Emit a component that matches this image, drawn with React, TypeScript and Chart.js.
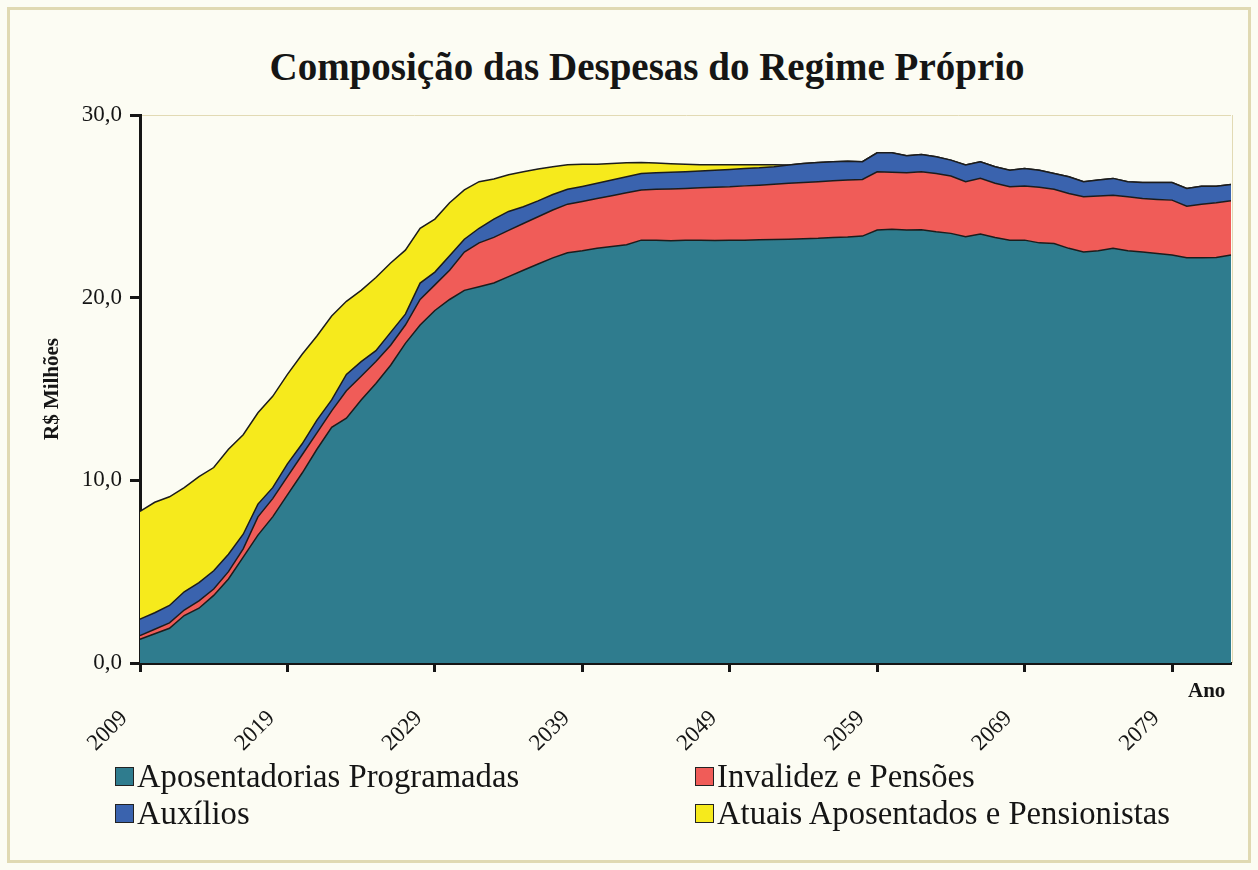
import React, { useEffect, useRef } from 'react';
import { Chart, registerables } from 'chart.js';

Chart.register(...registerables);

const years = [
  '2009', '2010', '2011', '2012', '2013', '2014', '2015', '2016', '2017', '2018',
  '2019', '2020', '2021', '2022', '2023', '2024', '2025', '2026', '2027', '2028',
  '2029', '2030', '2031', '2032', '2033', '2034', '2035', '2036', '2037', '2038',
  '2039', '2040', '2041', '2042', '2043', '2044', '2045', '2046', '2047', '2048',
  '2049', '2050', '2051', '2052', '2053', '2054', '2055', '2056', '2057', '2058',
  '2059', '2060', '2061', '2062', '2063', '2064', '2065', '2066', '2067', '2068',
  '2069', '2070', '2071', '2072', '2073', '2074', '2075', '2076', '2077', '2078',
  '2079', '2080', '2081', '2082', '2083',
];

const aposentadoriasProgramadas = [
  1.3, 1.6, 1.9, 2.6, 3.0, 3.7, 4.6, 5.8, 7.0, 8.0,
  9.2, 10.4, 11.7, 12.9, 13.4, 14.4, 15.3, 16.3, 17.5, 18.5,
  19.3, 19.9, 20.4, 20.6, 20.8, 21.15, 21.5, 21.84, 22.18, 22.46,
  22.57, 22.7, 22.8, 22.9, 23.15, 23.15, 23.12, 23.15, 23.15, 23.13,
  23.15, 23.15, 23.17, 23.18, 23.2, 23.22, 23.25, 23.3, 23.32, 23.37,
  23.7, 23.75, 23.7, 23.72, 23.61, 23.52, 23.33, 23.48, 23.29, 23.15,
  23.15, 23.0, 22.97, 22.7, 22.5, 22.57, 22.7, 22.57, 22.5, 22.42,
  22.33, 22.18, 22.18, 22.2, 22.33,
];

const invalidezPensoes = [
  0.2, 0.25, 0.3, 0.3, 0.4, 0.35, 0.4, 0.45, 1.0, 1.0,
  1.0, 1.0, 0.9, 0.9, 1.5, 1.3, 1.2, 1.1, 1.0, 1.4,
  1.4, 1.6, 2.1, 2.4, 2.5, 2.53, 2.56, 2.59, 2.62, 2.66,
  2.7, 2.73, 2.78, 2.84, 2.75, 2.78, 2.83, 2.83, 2.87, 2.91,
  2.92, 2.97, 2.99, 3.03, 3.06, 3.08, 3.1, 3.1, 3.12, 3.1,
  3.19, 3.12, 3.14, 3.17, 3.19, 3.14, 3.02, 3.05, 2.97, 2.92,
  2.96, 3.04, 2.96, 3.0, 3.02, 2.99, 2.91, 2.95, 2.93, 2.96,
  3.01, 2.83, 2.94, 2.99, 2.97,
];

const auxilios = [
  0.9, 0.9, 0.95, 1.0, 1.0, 1.0, 0.95, 0.8, 0.7, 0.6,
  0.7, 0.6, 0.7, 0.6, 0.9, 0.8, 0.6, 0.7, 0.6, 0.9,
  0.7, 0.8, 0.7, 0.8, 1.0, 1.04, 0.92, 0.87, 0.85, 0.81,
  0.82, 0.83, 0.86, 0.88, 0.9, 0.91, 0.91, 0.91, 0.91, 0.93,
  0.95, 0.95, 0.95, 0.96, 1.0, 1.05, 1.05, 1.04, 1.03, 0.97,
  1.04, 1.06, 0.93, 0.95, 0.91, 0.87, 0.91, 0.91, 0.91, 0.91,
  0.96, 0.94, 0.87, 0.92, 0.83, 0.88, 0.92, 0.83, 0.87, 0.92,
  0.96, 0.97, 0.98, 0.91, 0.9,
];

const atuaisAposentados = [
  5.9, 6.05, 5.95, 5.7, 5.8, 5.65, 5.75, 5.45, 5.0, 5.0,
  4.9, 4.9, 4.6, 4.6, 4.0, 3.9, 4.0, 3.8, 3.5, 3.0,
  2.9, 2.9, 2.7, 2.55, 2.2, 2.01, 1.91, 1.74, 1.52, 1.35,
  1.21, 1.05, 0.91, 0.76, 0.6, 0.53, 0.47, 0.41, 0.35, 0.31,
  0.26, 0.21, 0.17, 0.11, 0, 0, 0, 0, 0, 0,
  0, 0, 0, 0, 0, 0, 0, 0, 0, 0,
  0, 0, 0, 0, 0, 0, 0, 0, 0, 0,
  0, 0, 0, 0, 0,
];

const yTicks = [0, 10, 20, 30];

const seriesNames = [
  'Aposentadorias Programadas',
  'Invalidez e Pensões',
  'Auxílios',
  'Atuais Aposentados e Pensionistas',
];
const seriesColors = ['#2f7c8e', '#f05c58', '#3a63ae', '#f6ea1c'];

const SERIF = '"Liberation Serif", "Times New Roman", serif';

const plotFrame = {
  id: 'plotFrame',
  afterDraw(chart: any) {
    const { ctx, chartArea } = chart;
    ctx.save();
    ctx.strokeStyle = '#e2dab4';
    ctx.lineWidth = 1;
    ctx.beginPath();
    ctx.moveTo(chartArea.right + 1.5, chartArea.top);
    ctx.lineTo(chartArea.right + 1.5, chartArea.bottom);
    ctx.stroke();
    ctx.restore();
  },
};

export default function App() {
  const ref = useRef<HTMLCanvasElement>(null);

  useEffect(() => {
    document.body.style.margin = '0';
    const seriesData = [aposentadoriasProgramadas, invalidezPensoes, auxilios, atuaisAposentados];
    const chart = new Chart(ref.current as HTMLCanvasElement, {
      type: 'line',
      data: {
        labels: years,
        datasets: seriesData.map((d, i) => ({
          label: seriesNames[i],
          data: d,
          backgroundColor: seriesColors[i],
          borderColor: '#1c1c1c',
          borderWidth: 1.5,
          fill: i === 0 ? 'origin' : '-1',
          pointRadius: 0,
          tension: 0,
        })),
      },
      options: {
        responsive: false,
        animation: false,
        layout: { padding: { left: 0, right: 27, top: 115, bottom: 0 } },
        plugins: {
          legend: { display: false },
          tooltip: { enabled: false },
          title: { display: false },
        },
        scales: {
          x: {
            type: 'category',
            offset: false,
            border: { display: true, color: '#151515', width: 3 },
            grid: {
              display: true,
              drawOnChartArea: false,
              drawTicks: true,
              tickLength: 9,
              tickWidth: 3,
              tickColor: '#151515',
              color: 'rgba(0,0,0,0)',
            },
            ticks: {
              autoSkip: false,
              maxRotation: 45,
              minRotation: 45,
              padding: 33,
              labelOffset: -16,
              color: '#151515',
              font: { family: SERIF, size: 23 },
              callback: (_v: any, index: number) => (index % 10 === 0 ? years[index] : null),
            },
            afterFit: (s: any) => {
              s.height = 207;
            },
          },
          y: {
            stacked: true,
            min: 0,
            max: 30,
            border: { display: true, color: '#151515', width: 3 },
            grid: {
              display: true,
              drawTicks: true,
              tickLength: 10,
              tickWidth: 3,
              tickColor: '#151515',
              color: (ctx: any) => (ctx.tick && ctx.tick.value === 30 ? '#e2dab4' : 'rgba(0,0,0,0)'),
            },
            afterBuildTicks: (s: any) => {
              s.ticks = yTicks.map((v) => ({ value: v }));
            },
            ticks: {
              padding: 8,
              color: '#151515',
              font: { family: SERIF, size: 23 },
              callback: (v: any) => Number(v).toFixed(1).replace('.', ','),
            },
            title: {
              display: true,
              text: 'R$ Milhões',
              color: '#151515',
              font: { family: SERIF, size: 21, weight: 'bold' },
              padding: { top: 40, bottom: 0 },
            },
            afterFit: (s: any) => {
              s.width = 140;
            },
          },
        },
      },
      plugins: [plotFrame],
    });
    return () => chart.destroy();
  }, []);

  const legendRows = [
    [0, 1],
    [2, 3],
  ];
  const colX = [115, 695];
  const rowTop = [767, 804];

  return (
    <div
      style={{
        position: 'absolute',
        left: 0,
        top: 0,
        width: 1258,
        height: 870,
        background: '#fcfcf3',
        overflow: 'hidden',
        fontFamily: SERIF,
        color: '#151515',
      }}
    >
      <div
        style={{
          position: 'absolute',
          left: 7,
          top: 7,
          width: 1258 - 14 - 6,
          height: 870 - 14 - 6,
          border: '3px solid #e0d9b2',
        }}
      />
      <div
        style={{
          position: 'absolute',
          left: 0,
          width: 1294,
          top: 47,
          textAlign: 'center',
          fontSize: 39,
          lineHeight: '39px',
          fontWeight: 'bold',
          whiteSpace: 'nowrap',
        }}
      >
        Composição das Despesas do Regime Próprio
      </div>
      <canvas
        ref={ref}
        width={1258}
        height={870}
        style={{ position: 'absolute', left: 0, top: 0, width: 1258, height: 870, display: 'block' }}
      />
      <div
        style={{
          position: 'absolute',
          left: 1188,
          top: 680,
          fontSize: 21,
          lineHeight: '21px',
          fontWeight: 'bold',
        }}
      >
        Ano
      </div>
      {legendRows.map((row, r) =>
        row.map((si, c) => (
          <div
            key={si}
            style={{
              position: 'absolute',
              left: colX[c],
              top: rowTop[r] - 7,
              height: 32,
              display: 'flex',
              alignItems: 'center',
              whiteSpace: 'nowrap',
            }}
          >
            <span
              style={{
                display: 'inline-block',
                width: 17,
                height: 17,
                background: seriesColors[si],
                border: '1px solid #222',
                marginRight: 3,
              }}
            />
            <span style={{ fontSize: 32.7, lineHeight: '32px' }}>{seriesNames[si]}</span>
          </div>
        ))
      )}
    </div>
  );
}
